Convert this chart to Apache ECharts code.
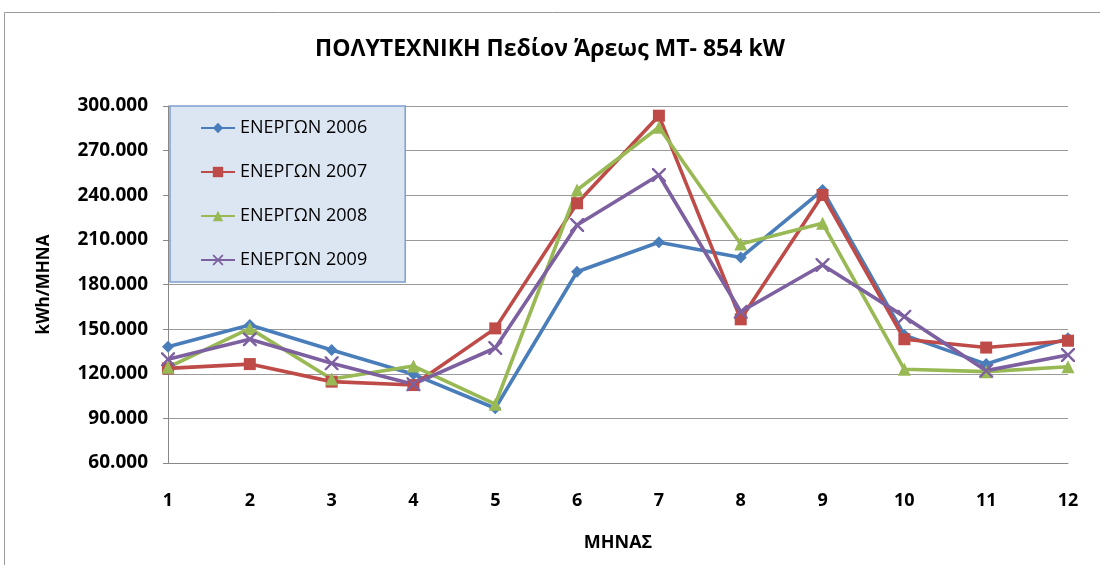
<!DOCTYPE html>
<html><head><meta charset="utf-8">
<script src="https://cdn.jsdelivr.net/npm/echarts@6/dist/echarts.min.js"></script>
<style>html,body{margin:0;padding:0;background:#fff}#c{width:1100px;height:565px}</style>
</head><body><div id="c"></div>
<script>
const months = ['1','2','3','4','5','6','7','8','9','10','11','12'];
const s2006 = [138200,152800,136000,119600,96800,188600,208400,198100,243500,146000,126500,143800];
const s2007 = [123600,126500,114700,112400,150500,234600,293500,156600,240200,143200,137600,142200];
const s2008 = [124300,150500,116500,125200,99500,243500,285700,207200,221100,123000,121400,124700];
const s2009 = [129700,143200,127000,113000,137300,220000,253600,161700,193100,158400,122100,132600];
const seriesNames = ['ΕΝΕΡΓΩΝ 2006','ΕΝΕΡΓΩΝ 2007','ΕΝΕΡΓΩΝ 2008','ΕΝΕΡΓΩΝ 2009'];
const yTicks = {min:60000, max:300000, interval:30000};

const colors = ['#4A7EBB','#BE4B48','#98B954','#7D60A0'];
const xPath = 'path://M0,0 L1.2,0 L5,3.8 L8.8,0 L10,0 L10,1.2 L6.2,5 L10,8.8 L10,10 L8.8,10 L5,6.2 L1.2,10 L0,10 L0,8.8 L3.8,5 L0,1.2 Z';
const symbols = ['diamond','rect','triangle',xPath];
const sizes = [12,12,13,14];
const data = [s2006,s2007,s2008,s2009];
const font = '"Open Sans", "Liberation Sans", sans-serif';

const chart = echarts.init(document.getElementById('c'));
chart.setOption({
  animation:false,
  title:{text:'ΠΟΛΥΤΕΧΝΙΚΗ Πεδίον Άρεως ΜΤ- 854 kW', left:'center', top:33,
    textStyle:{fontFamily:font, fontWeight:'bold', fontSize:23, color:'#000'}},
  graphic:[{type:'rect', shape:{x:4.5,y:12.5,width:1200,height:600}, style:{fill:'none',stroke:'#9a9a9a',lineWidth:1}, z:-1}],
  grid:{left:168, right:32, top:106, bottom:102},
  legend:{orient:'vertical', left:170, top:106,
    padding:[11,38,11,30], itemGap:22, itemWidth:34, itemHeight:13,
    backgroundColor:'#DCE6F2', borderColor:'#7F9FCF', borderWidth:1.5,
    textStyle:{fontFamily:font, fontSize:18, lineHeight:22, color:'#000'},
    data:seriesNames},
  xAxis:{type:'category', data:months, boundaryGap:false,
    name:'ΜΗΝΑΣ', nameLocation:'middle', nameGap:71,
    nameTextStyle:{fontFamily:font, fontWeight:'bold', fontSize:18, color:'#000'},
    axisLine:{lineStyle:{color:'#888'}}, axisTick:{show:false},
    axisLabel:{fontFamily:font, fontWeight:'bold', fontSize:18, color:'#000', margin:29}},
  yAxis:{type:'value', min:yTicks.min, max:yTicks.max, interval:yTicks.interval,
    name:'kWh/ΜΗΝΑ', nameLocation:'middle', nameGap:115, nameRotate:90,
    nameTextStyle:{fontFamily:font, fontWeight:'bold', fontSize:17, color:'#000'},
    axisLine:{show:true, lineStyle:{color:'#888'}}, axisTick:{show:true, length:5, lineStyle:{color:'#888'}},
    splitLine:{lineStyle:{color:'#9a9a9a', width:1}},
    axisLabel:{fontFamily:font, fontWeight:'bold', fontSize:19, color:'#000', margin:20,
      formatter:v=>String(v).replace(/\B(?=(\d{3})+(?!\d))/g,'.')}},
  series:data.map((d,i)=>({name:seriesNames[i], type:'line', data:d, color:colors[i],
    symbol:symbols[i], symbolSize:sizes[i], showAllSymbol:true,
    lineStyle:{width:3.6, color:colors[i]}, itemStyle:{color:colors[i]}}))
});
</script></body></html>
